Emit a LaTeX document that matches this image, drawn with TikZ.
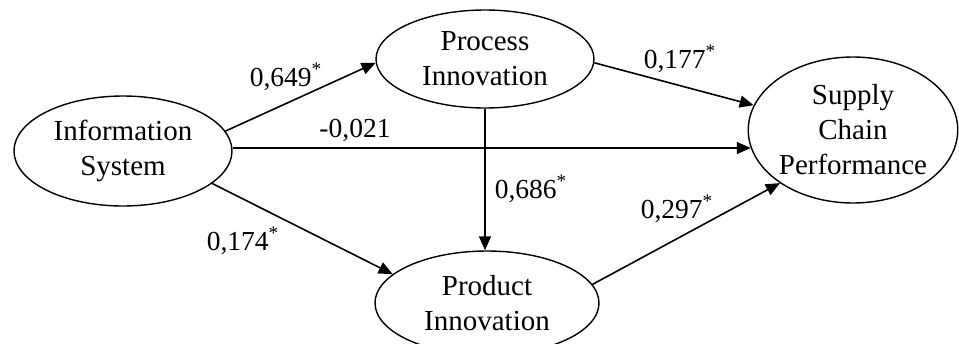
\documentclass[tikz,border=0pt]{standalone}
\usepackage{fontspec}
\setmainfont{Liberation Serif}
\usetikzlibrary{shapes.geometric,%
  arrows.meta}

\begin{document}
\begin{tikzpicture}
                    [x=0.5pt,y=-0.5pt,
                    latent/.style={ellipse,
                        draw, line width=0.7pt,
                        inner sep=0pt, align=center,
                        font=\fontsize{14.5}{17.5}\selectfont},
                    effect/.style={-{Triangle[length=7pt,width=6pt]},
                        line width=0.8pt},
                    coef/.style={inner sep=0pt,
                        font=\fontsize{13.75}{17}\selectfont}]
                    \useasboundingbox (0,0) rectangle (959,343);

                    \node[latent, minimum width=109pt, minimum height=55pt] at (123,151)
                        (info) {Information\\System};
                    \node[latent, minimum width=109pt, minimum height=49pt] at (485,59)
                        (proc) {Process\\Innovation};
                    \node[latent, minimum width=112pt, minimum height=52pt] at (487,303)
                        (prod) {Product\\Innovation};
                    \node[latent, minimum width=100pt, minimum height=73pt] at (853,130)
                        (scp) {Supply\\Chain\\Performance};

                    \draw[effect] (info.11) -- (proc.182);
                    \draw[effect] (proc.358) -- (scp.166);
                    \draw[effect] (info.east |- scp.190) -- (scp.190);
                    \draw[effect] (proc.south) -- (proc.south |- prod.north);
                    \draw[effect] (info.-20) -- (prod.163);
                    \draw[effect] (prod.10) -- (scp.216);

                    \node[coef] at (286,77) (c649) {0,649\textsuperscript{*}};
                    \node[coef] at (680,59) (c177) {0,177\textsuperscript{*}};
                    \node[coef] at (355,130) (c021) {-0,021};
                    \node[coef] at (531,189) (c686) {0,686\textsuperscript{*}};
                    \node[coef] at (677,209) (c297) {0,297\textsuperscript{*}};
                    \node[coef] at (243,241) (c174) {0,174\textsuperscript{*}};
                \end{tikzpicture}
\end{document}
